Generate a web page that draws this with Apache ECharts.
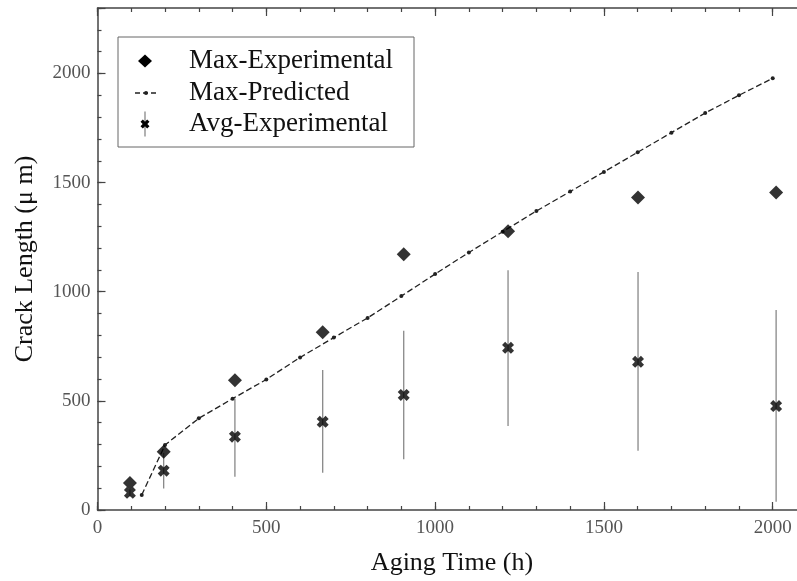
<!DOCTYPE html>
<html>
<head>
<meta charset="utf-8">
<script src="https://cdn.jsdelivr.net/npm/echarts@6/dist/echarts.min.js"></script>
<style>
html,body{margin:0;padding:0;background:#fff;}
#chart{width:797px;height:581px;}
</style>
</head>
<body>
<div id="chart"></div>
<script>
// ---- data ----
const predX = [131, 200, 300, 400, 500, 600, 700, 800, 900, 1000, 1100, 1200, 1300, 1400, 1500, 1600, 1700, 1800, 1900, 2000];
const predY = [69, 298, 420, 510, 598, 699, 790, 880, 980, 1081, 1180, 1275, 1370, 1459, 1549, 1639, 1729, 1819, 1900, 1978];
const expX = [96, 196, 407, 667, 907, 1216, 1601, 2010];
const maxExpY = [124, 267, 595, 814, 1172, 1277, 1432, 1455];
const avgY = [79, 180, 336, 404, 527, 743, 679, 476];
const avgLo = [62, 99, 152, 171, 232, 385, 272, 38];
const avgHi = [96, 261, 511, 641, 821, 1099, 1091, 916];
const xTickLabels = [0, 500, 1000, 1500, 2000];
const yTickLabels = [0, 500, 1000, 1500, 2000];
const legendNames = ['Max-Experimental', 'Max-Predicted', 'Avg-Experimental'];

const FONT = "'Liberation Serif','Times New Roman',serif";
const AX = '#444';
const xShape = [[0,2.6],[2.6,0],[5,2.4],[7.4,0],[10,2.6],[7.6,5],[10,7.4],[7.4,10],[5,7.6],[2.6,10],[0,7.4],[2.4,5]];
const xMarker = 'path://M' + xShape.map(p => p[0] + ',' + p[1]).join(' L') + ' Z';

const chart = echarts.init(document.getElementById('chart'), null, {renderer: 'canvas'});

function axisX(pos, major, withLabel) {
  return {
    type: 'value', position: pos, min: 0, max: 2100, interval: major ? 500 : 100,
    axisLine: {show: major, onZero: false, lineStyle: {color: AX, width: 1.5}},
    axisTick: {show: true, inside: true, length: major ? 8 : 4, lineStyle: {color: AX, width: 1.2}},
    axisLabel: withLabel ? {
      show: true, margin: 9, color: '#555', fontFamily: FONT, fontSize: 19,
      formatter: v => xTickLabels.indexOf(v) >= 0 ? String(v) : ''
    } : {show: false},
    splitLine: {show: false}
  };
}
function axisY(major, withLabel) {
  return {
    type: 'value', position: 'left', min: 0, max: 2300, interval: major ? 500 : 100,
    axisLine: {show: major, onZero: false, lineStyle: {color: AX, width: 1.5}},
    axisTick: {show: true, inside: true, length: major ? 8 : 4, lineStyle: {color: AX, width: 1.2}},
    axisLabel: withLabel ? {
      show: true, margin: 7, color: '#555', fontFamily: FONT, fontSize: 19,
      formatter: v => yTickLabels.indexOf(v) >= 0 ? String(v) : ''
    } : {show: false},
    splitLine: {show: false}
  };
}

const xMain = axisX('bottom', true, true);
xMain.name = 'Aging Time (h)';
xMain.nameLocation = 'middle';
xMain.nameGap = 40;
xMain.nameTextStyle = {fontFamily: FONT, fontSize: 26, color: '#111'};
const yMain = axisY(true, true);
yMain.name = 'Crack Length (\u03bc m)';
yMain.nameLocation = 'middle';
yMain.nameGap = 59;
yMain.nameTextStyle = {fontFamily: FONT, fontSize: 26, color: '#111'};

const legendTop = 37, legendLeft = 118, rowY = [61, 93, 124];

const option = {
  backgroundColor: '#fff',
  animation: false,
  grid: {left: 97.5, top: 8, width: 709, height: 502, containLabel: false, outerBoundsMode: 'none'},
  xAxis: [xMain, axisX('bottom', false, false), axisX('top', true, false), axisX('top', false, false)],
  yAxis: [yMain, axisY(false, false)],
  series: [
    {
      name: 'Max-Predicted', type: 'line',
      data: predX.map((x, i) => [x, predY[i]]),
      symbol: 'circle', symbolSize: 4, showSymbol: true,
      itemStyle: {color: '#222'},
      lineStyle: {color: '#222', width: 1.3, type: [6, 3]},
      z: 3
    },
    {
      name: 'Avg-Experimental-bars', type: 'custom',
      data: expX.map((x, i) => [x, avgLo[i], avgHi[i]]),
      encode: {x: 0, y: [1, 2]},
      renderItem: function (params, api) {
        const p1 = api.coord([api.value(0), api.value(1)]);
        const p2 = api.coord([api.value(0), api.value(2)]);
        return {type: 'line', shape: {x1: p1[0], y1: p1[1], x2: p2[0], y2: p2[1]},
                style: {stroke: '#888', lineWidth: 1.3}};
      },
      z: 2
    },
    {
      name: 'Max-Experimental', type: 'scatter',
      data: expX.map((x, i) => [x, maxExpY[i]]),
      symbol: 'diamond', symbolSize: 14,
      itemStyle: {color: '#000'},
      z: 4
    },
    {
      name: 'Avg-Experimental', type: 'scatter',
      data: expX.map((x, i) => [x, avgY[i]]),
      symbol: xMarker, symbolSize: 12,
      itemStyle: {color: '#000'},
      z: 5
    }
  ],
  graphic: [
    {type: 'rect', shape: {x: legendLeft, y: legendTop, width: 296, height: 110},
     style: {fill: '#fff', stroke: '#666', lineWidth: 1}, z: 10},
    {type: 'polygon', shape: {points: [[145, rowY[0] - 6.5], [152, rowY[0]], [145, rowY[0] + 6.5], [138, rowY[0]]]},
     style: {fill: '#000'}, z: 11},
    {type: 'line', shape: {x1: 135, y1: rowY[1], x2: 157, y2: rowY[1]},
     style: {stroke: '#222', lineWidth: 1.3, lineDash: [5, 3]}, z: 11},
    {type: 'circle', shape: {cx: 146, cy: rowY[1], r: 2}, style: {fill: '#222'}, z: 11},
    {type: 'line', shape: {x1: 145, y1: rowY[2] - 12.5, x2: 145, y2: rowY[2] + 12.5},
     style: {stroke: '#888', lineWidth: 1.3}, z: 11},
    {type: 'polygon', shape: {points: xShape.map(p => [140.5 + p[0] * 0.9, rowY[2] - 4.5 + p[1] * 0.9])},
     style: {fill: '#000'}, z: 12},
    {type: 'text', x: 189, y: rowY[0], style: {text: legendNames[0], font: '27px ' + FONT, fill: '#111', verticalAlign: 'middle'}, z: 11},
    {type: 'text', x: 189, y: rowY[1], style: {text: legendNames[1], font: '27px ' + FONT, fill: '#111', verticalAlign: 'middle'}, z: 11},
    {type: 'text', x: 189, y: rowY[2], style: {text: legendNames[2], font: '27px ' + FONT, fill: '#111', verticalAlign: 'middle'}, z: 11}
  ]
};
chart.setOption(option);
</script>
</body>
</html>
